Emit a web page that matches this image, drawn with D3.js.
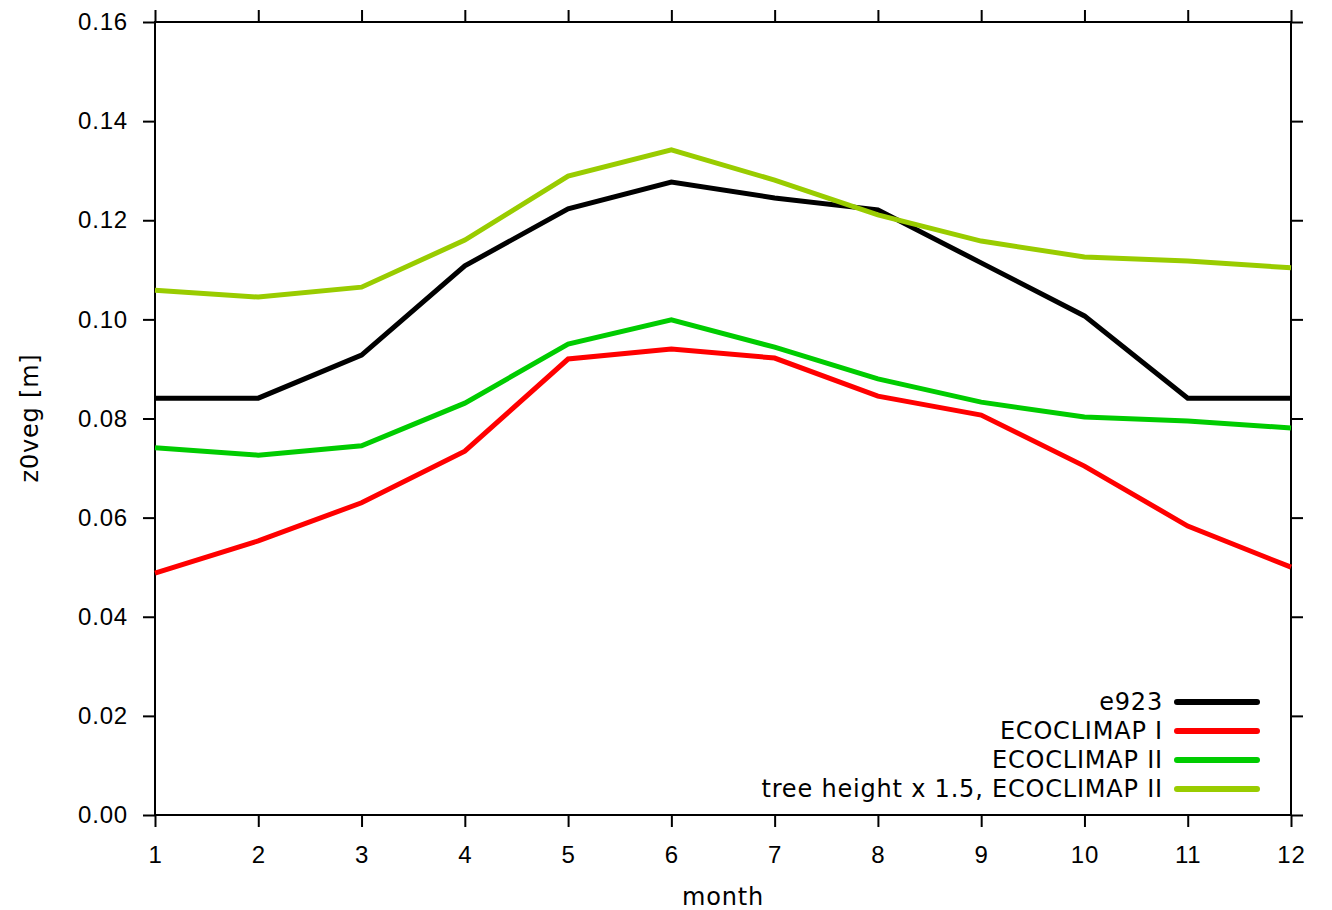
<!DOCTYPE html>
<html>
<head>
<meta charset="utf-8">
<script src="https://cdn.jsdelivr.net/npm/d3@7"></script>
<style>
  body { margin: 0; background: #fff; }
  svg { display: block; font-family: "DejaVu Sans", sans-serif; }
  text { letter-spacing: 0.8px; }
</style>
</head>
<body>
<div id="chart"></div>
<script>
const months = [1, 2, 3, 4, 5, 6, 7, 8, 9, 10, 11, 12];
const yTicks = [0, 0.02, 0.04, 0.06, 0.08, 0.10, 0.12, 0.14, 0.16];

const e923 = [0.0841, 0.0841, 0.0928, 0.1108, 0.1223, 0.1277, 0.1245, 0.1221, 0.1114, 0.1007, 0.0841, 0.0841];
const ecoI = [0.0488, 0.0553, 0.0630, 0.0734, 0.0920, 0.0940, 0.0922, 0.0845, 0.0807, 0.0704, 0.0583, 0.0500];
const ecoII = [0.0741, 0.0726, 0.0745, 0.0831, 0.0950, 0.0999, 0.0944, 0.0880, 0.0833, 0.0803, 0.0795, 0.0781];
const treeII = [0.1059, 0.1045, 0.1065, 0.1160, 0.1289, 0.1342, 0.1281, 0.1211, 0.1158, 0.1126, 0.1118, 0.1104];

const seriesNames = ["e923", "ECOCLIMAP I", "ECOCLIMAP II", "tree height x 1.5, ECOCLIMAP II"];
const seriesColors = ["#000000", "#ff0000", "#00cc00", "#99cc00"];
const seriesValues = [e923, ecoI, ecoII, treeII];

const W = 1332, H = 910;
const plotL = 155, plotR = 1291, plotT = 22, plotB = 815;
const fontSize = "24px";

const svg = d3.select("#chart").append("svg")
    .attr("width", W)
    .attr("height", H);

const x = d3.scaleLinear().domain([1, 12]).range([plotL, plotR]);
const y = d3.scaleLinear().domain([0, 0.16]).range([plotB, plotT]);

// axes, gnuplot style: ticks outward on all four sides
function styleAxis(g) {
    g.select(".domain").remove();
    g.selectAll(".tick line").attr("stroke", "#000").attr("stroke-width", 2);
    g.selectAll(".tick text").attr("fill", "#000").style("font-size", fontSize);
}

svg.append("g")
    .attr("transform", `translate(0,${plotB})`)
    .call(d3.axisBottom(x).tickValues(months).tickSize(12).tickPadding(19).tickFormat(d3.format("d")))
    .call(styleAxis);

svg.append("g")
    .attr("transform", `translate(0,${plotT})`)
    .call(d3.axisTop(x).tickValues(months).tickSize(12).tickFormat(""))
    .call(styleAxis);

svg.append("g")
    .attr("transform", `translate(${plotL},0)`)
    .call(d3.axisLeft(y).tickValues(yTicks).tickSize(12).tickPadding(15).tickFormat(d3.format(".2f")))
    .call(styleAxis);

svg.append("g")
    .attr("transform", `translate(${plotR},0)`)
    .call(d3.axisRight(y).tickValues(yTicks).tickSize(12).tickFormat(""))
    .call(styleAxis);

svg.append("rect")
    .attr("x", plotL).attr("y", plotT)
    .attr("width", plotR - plotL).attr("height", plotB - plotT)
    .attr("fill", "none").attr("stroke", "#000").attr("stroke-width", 2);

// series lines
const line = d3.line()
    .x((d, i) => x(months[i]))
    .y(d => y(d));

seriesValues.forEach((vals, k) => {
    svg.append("path")
        .datum(vals)
        .attr("d", line)
        .attr("fill", "none")
        .attr("stroke", seriesColors[k])
        .attr("stroke-width", 5)
        .attr("stroke-linejoin", "miter");
});

// axis titles
svg.append("text")
    .attr("x", (plotL + plotR) / 2)
    .attr("y", 905)
    .attr("text-anchor", "middle")
    .style("font-size", fontSize)
    .text("month");

svg.append("text")
    .attr("transform", `translate(38,418) rotate(-90)`)
    .attr("text-anchor", "middle")
    .style("font-size", fontSize)
    .text("z0veg [m]");

// legend
const legend = svg.append("g");
seriesNames.forEach((name, k) => {
    const ly = 702 + k * 29;
    legend.append("text")
        .attr("x", 1163)
        .attr("y", ly)
        .attr("dy", "0.35em")
        .attr("text-anchor", "end")
        .style("font-size", fontSize)
        .text(name);
    legend.append("line")
        .attr("x1", 1177).attr("x2", 1257)
        .attr("y1", ly).attr("y2", ly)
        .attr("stroke", seriesColors[k])
        .attr("stroke-width", 6)
        .attr("stroke-linecap", "round");
});
</script>
</body>
</html>
